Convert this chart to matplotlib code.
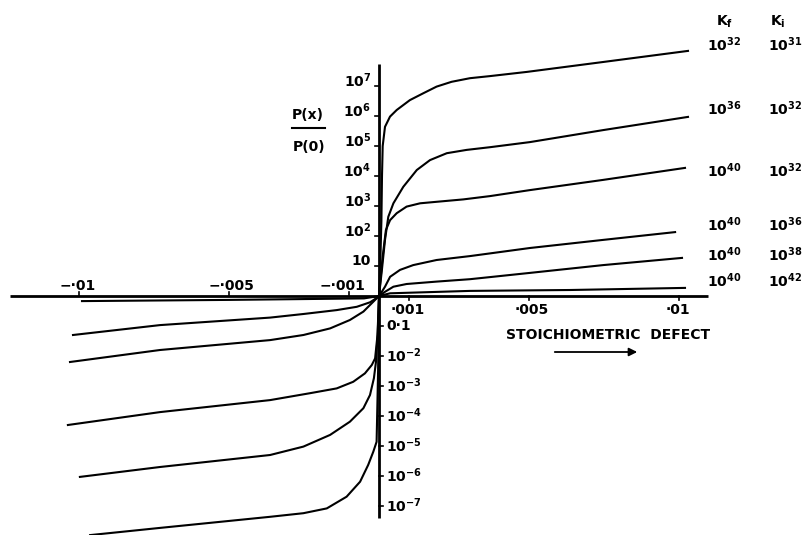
import numpy as np
import matplotlib
matplotlib.use("Agg")
import matplotlib.pyplot as plt

plt.rcParams['font.family'] = ['DejaVu Sans']
plt.rcParams['mathtext.default'] = 'regular'

# ---------------- data (log10 of P(x)/P(0) vs stoichiometric defect x) ----------------
kf_labels = ["32", "36", "40", "40", "40", "40"]
ki_labels = ["31", "32", "32", "36", "38", "42"]

# positive defect branch
pos_x = [
    [0, 0.00004, 0.00008, 0.0001, 0.000123, 0.0002, 0.000367, 0.00059, 0.00103, 0.00148, 0.00192,
     0.00242, 0.00303, 0.0037, 0.00493, 0.00747, 0.0103],
    [0, 0.0001, 0.0002, 0.00031, 0.00048, 0.00081, 0.00126, 0.0017, 0.00226, 0.00292, 0.0037,
     0.00503, 0.00747, 0.0103],
    [0, 0.00012, 0.00023, 0.00037, 0.00059, 0.00092, 0.00137, 0.00192, 0.00281, 0.0037, 0.00503,
     0.00747, 0.0102],
    [0, 0.0001, 0.0002, 0.00037, 0.0007, 0.00114, 0.00192, 0.00303, 0.0037, 0.00503, 0.00747, 0.00987],
    [0, 0.0002, 0.00048, 0.00092, 0.00192, 0.00303, 0.0037, 0.00503, 0.00747, 0.0101],
    [0, 0.00037, 0.00303, 0.00637, 0.0102],
]
pos_logp = [
    [0, 1.0, 2.5, 4.0, 5.0, 5.64, 5.98, 6.2, 6.53, 6.76, 6.98, 7.14, 7.26, 7.33, 7.47, 7.8, 8.17],
    [0, 0.9, 1.87, 2.64, 3.09, 3.64, 4.2, 4.53, 4.76, 4.87, 4.96, 5.13, 5.53, 5.97],
    [0, 1.3, 2.2, 2.53, 2.76, 2.98, 3.09, 3.14, 3.22, 3.33, 3.53, 3.87, 4.27],
    [0, 0.15, 0.31, 0.64, 0.87, 1.03, 1.2, 1.33, 1.42, 1.6, 1.87, 2.13],
    [0, 0.14, 0.31, 0.4, 0.48, 0.56, 0.63, 0.77, 1.03, 1.27],
    [0, 0.09, 0.17, 0.2, 0.27],
]

# negative defect branch
neg_x = [
    [-0.0099, -0.005, -0.0005, 0],
    [-0.0102, -0.0073, -0.00363, -0.00252, -0.00141, -0.00074, -0.0003, -0.0001, 0],
    [-0.0103, -0.0073, -0.00363, -0.00252, -0.00163, -0.00097, -0.00052, -0.00024, -0.00008, 0],
    [-0.01037, -0.0073, -0.00363, -0.0023, -0.00141, -0.00086, -0.00047, -0.00024, -0.00013,
     -0.00005, 0],
    [-0.00997, -0.0073, -0.00363, -0.00252, -0.00163, -0.00097, -0.00052, -0.0003, -0.00017,
     -0.0001, -0.00004, 0],
    [-0.00963, -0.0073, -0.00363, -0.00252, -0.00174, -0.00108, -0.00063, -0.00036, -0.00019,
     -0.00008, -0.00003, 0],
]
neg_logp = [
    [-0.17, -0.13, -0.08, 0],
    [-1.3, -0.97, -0.72, -0.6, -0.47, -0.36, -0.21, -0.08, 0],
    [-2.2, -1.8, -1.47, -1.3, -1.08, -0.8, -0.52, -0.24, -0.08, 0],
    [-4.3, -3.87, -3.47, -3.24, -3.08, -2.86, -2.58, -2.3, -2.08, -1.3, 0],
    [-6.03, -5.7, -5.3, -5.02, -4.63, -4.19, -3.74, -3.3, -2.74, -2.19, -1.2, 0],
    [-7.97, -7.73, -7.36, -7.24, -7.08, -6.69, -6.19, -5.63, -5.19, -4.86, -2.5, 0],
]

x_ticks = [-0.01, -0.005, -0.001, 0.001, 0.005, 0.01]
x_tick_labels = ["\u2212\u00b701", "\u2212\u00b7005", "\u2212\u00b7001", "\u00b7001", "\u00b7005", "\u00b701"]
y_exps_up = [1, 2, 3, 4, 5, 6, 7]
y_exps_down = [-1, -2, -3, -4, -5, -6, -7]

# ---------------- figure ----------------
W, H = 807, 535
fig = plt.figure(figsize=(W / 100, H / 100), dpi=100)
ax = fig.add_axes([0, 0, 1, 1])
PX_PER_X = 30000.0      # pixels per unit of defect
PX_PER_DEC = 30.0       # pixels per decade
X0_PX, Y0_PX = 379, 296
ax.set_xlim(-X0_PX / PX_PER_X, (W - X0_PX) / PX_PER_X)
ax.set_yscale('log')
ax.set_ylim(10 ** (-(H - Y0_PX) / PX_PER_DEC), 10 ** (Y0_PX / PX_PER_DEC))
ax.axis('off')

PT = 0.72  # points per pixel
lw_curve = 1.5
col = 'black'

# axes lines
ax.plot([-(X0_PX - 10) / PX_PER_X, (708 - X0_PX) / PX_PER_X], [1, 1], color=col, lw=2.0,
        solid_capstyle='butt')
ax.plot([0, 0], [10 ** 7.73, 10 ** -7.4], color=col, lw=2.0, solid_capstyle='butt')

# curves
for xs, ls in zip(pos_x, pos_logp):
    ax.plot(xs, 10 ** np.array(ls), color=col, lw=lw_curve, solid_joinstyle='round')
for xs, ls in zip(neg_x, neg_logp):
    ax.plot(xs, 10 ** np.array(ls), color=col, lw=lw_curve, solid_joinstyle='round')

# tick marks
tick_dx = 4 / PX_PER_X
for e in y_exps_up:
    ax.plot([-tick_dx, 0], [10 ** e, 10 ** e], color=col, lw=1.2)
for e in y_exps_down:
    ax.plot([0, tick_dx], [10 ** e, 10 ** e], color=col, lw=1.2)
tick_dy = 10 ** (4 / PX_PER_DEC)
for t in x_ticks:
    if t < 0:
        ax.plot([t, t], [1, tick_dy], color=col, lw=1.2)
    else:
        ax.plot([t, t], [1, 1 / tick_dy], color=col, lw=1.2)

fs = 10
tkw = dict(fontsize=fs, fontweight='bold', color=col, textcoords='offset points')

# y tick labels
for e in y_exps_up:
    txt = "10" if e == 1 else "$10^{%d}$" % e
    ax.annotate(txt, xy=(0, 10 ** e), xytext=(-8 * PT, 5 * PT), ha='right', va='center', **tkw)
for e in y_exps_down:
    txt = "0\u00b71" if e == -1 else "$10^{%d}$" % e
    ax.annotate(txt, xy=(0, 10 ** e), xytext=(7 * PT, 0), ha='left', va='center', **tkw)

# x tick labels
x_label_dx = {-0.01: -1, -0.005: 2, -0.001: -7, 0.001: -1, 0.005: 3, 0.01: -1}
for t, lab in zip(x_ticks, x_tick_labels):
    dy = 10 if t < 0 else -14
    ax.annotate(lab, xy=(t, 1), xytext=(x_label_dx[t] * PT, dy * PT), ha='center', va='center', **tkw)

# axis titles
fig.text(308 / W, 1 - 115 / H, "P(x)", fontsize=fs, fontweight='bold', ha='center', va='center')
fig.text(309 / W, 1 - 147 / H, "P(0)", fontsize=fs, fontweight='bold', ha='center', va='center')
fig.add_artist(plt.Line2D([292 / W, 325 / W], [1 - 128 / H, 1 - 128 / H], color=col, lw=1.5))
fig.text(608 / W, 1 - 335 / H, "STOICHIOMETRIC  DEFECT", fontsize=fs, fontweight='bold',
         ha='center', va='center')
ax.annotate("", xy=(640 / W, 1 - 352 / H), xytext=(552 / W, 1 - 352 / H), xycoords='figure fraction',
            textcoords='figure fraction',
            arrowprops=dict(arrowstyle='-|>', color=col, lw=1.3, mutation_scale=12))

# K labels on the right
fig.text(725 / W, 1 - 22 / H, "$K_f$", fontsize=fs, fontweight='bold', ha='center', va='center')
fig.text(778 / W, 1 - 22 / H, "$K_i$", fontsize=fs, fontweight='bold', ha='center', va='center')
row_y = [45, 109, 171, 225, 255, 281]
for y, kf, ki in zip(row_y, kf_labels, ki_labels):
    fig.text(707 / W, 1 - y / H, "$10^{%s}$" % kf, fontsize=fs, fontweight='bold', ha='left', va='center')
    fig.text(768 / W, 1 - y / H, "$10^{%s}$" % ki, fontsize=fs, fontweight='bold', ha='left', va='center')

fig.savefig("out.png", dpi=100, facecolor='white')
